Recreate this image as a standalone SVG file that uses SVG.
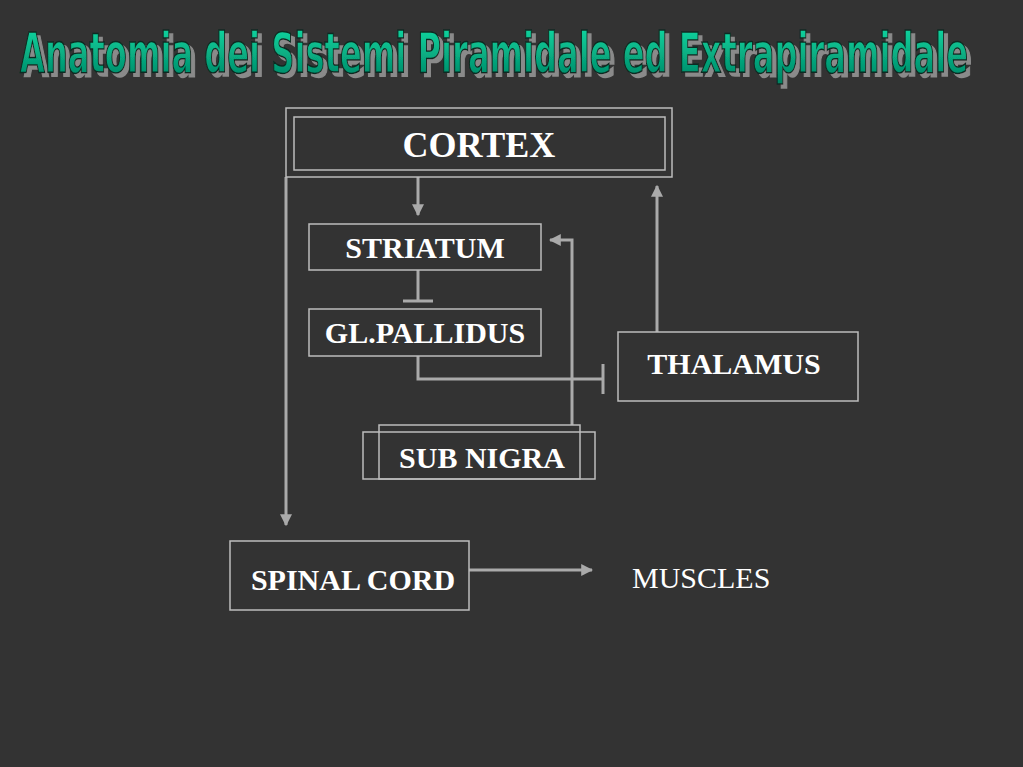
<svg xmlns="http://www.w3.org/2000/svg" width="1023" height="767" viewBox="0 0 1023 767">
<defs>
<linearGradient id="tg" x1="0" y1="0" x2="0" y2="1"><stop offset="0" stop-color="#10e0a8"/><stop offset="1" stop-color="#008060"/></linearGradient>
<filter id="sh" filterUnits="userSpaceOnUse" x="0" y="10" width="1023" height="90"><feDropShadow dx="4" dy="4" stdDeviation="0" flood-color="#8a8a8a"/></filter>
<marker id="ar" viewBox="0 0 10 10" refX="9" refY="5" markerWidth="4" markerHeight="4" orient="auto-start-reverse" markerUnits="strokeWidth"><path d="M0,0 L10,5 L0,10 z" fill="#aaaaaa"/></marker>
<style>
.box{fill:none;stroke:#bdbdbd;stroke-width:1.5}
.ln{fill:none;stroke:#aaaaaa;stroke-width:3}
.lb{font-family:"Liberation Serif",serif;font-weight:bold;font-size:30px;fill:#ffffff;text-anchor:middle}
.tt{font-family:"Liberation Sans Narrow","DejaVu Sans Condensed",sans-serif;font-weight:bold;font-size:56px}
</style>
</defs>
<rect width="1023" height="767" fill="#333333"/>
<text class="tt" x="20" y="72" textLength="948" lengthAdjust="spacingAndGlyphs" fill="url(#tg)" stroke="#0a2a20" stroke-width="1.5" filter="url(#sh)">Anatomia dei Sistemi Piramidale ed Extrapiramidale</text>
<g id="connectors">
<path class="ln" d="M418,177 V215" marker-end="url(#ar)"/>
<path class="ln" d="M418,270 V301 M403,301 H433"/>
<path class="ln" d="M418,356 V379 H603 M603,364 V394"/>
<path class="ln" d="M657,332 V186" marker-end="url(#ar)"/>
<path class="ln" d="M572,425 V240 H550" marker-end="url(#ar)"/>
<path class="ln" d="M286,177 V525" marker-end="url(#ar)"/>
<path class="ln" d="M469,570 H592" marker-end="url(#ar)"/>
</g>
<g id="cortex"><rect class="box" x="286" y="108" width="386" height="69"/><rect class="box" x="294" y="117" width="371" height="53"/><text class="lb" x="479" y="157" style="font-size:36px">CORTEX</text></g>
<g id="striatum"><rect class="box" x="309" y="224" width="232" height="46"/><text class="lb" x="425" y="258">STRIATUM</text></g>
<g id="pallidus"><rect class="box" x="309" y="309" width="232" height="47"/><text class="lb" x="425" y="343">GL.PALLIDUS</text></g>
<g id="thalamus"><rect class="box" x="618" y="332" width="240" height="69"/><text class="lb" x="734" y="374">THALAMUS</text></g>
<g id="subnigra"><rect class="box" x="379" y="425" width="201" height="54" fill="#333333"/><rect class="box" x="363" y="432" width="232" height="47"/><text class="lb" x="482" y="468">SUB NIGRA</text></g>
<g id="spinal"><rect class="box" x="230" y="541" width="239" height="69"/><text class="lb" x="353" y="590">SPINAL CORD</text></g>
<g id="muscles"><text x="632" y="588" font-family="Liberation Serif,serif" font-size="30" fill="#ffffff">MUSCLES</text></g>
</svg>
